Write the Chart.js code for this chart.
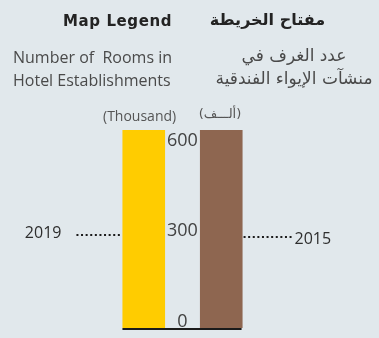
<!DOCTYPE html>
<html>
<head>
<meta charset="utf-8">
<script src="https://cdn.jsdelivr.net/npm/chart.js@4"></script>
<style>
  html, body { margin: 0; padding: 0; background: #e1e8ec; }
  #wrap { position: relative; width: 379px; height: 338px; overflow: hidden; background: #e1e8ec; }
  #c { position: absolute; left: 0; top: 0; }
  .t { position: absolute; white-space: nowrap; }
  .head-en { left: 63px; top: 12px; font: bold 15px 'DejaVu Sans', sans-serif; color: #232323; letter-spacing: 0.6px; }
  .head-ar { left: 205px; top: 10px; width: 125px; text-align: center; font: bold 16px 'DejaVu Sans', sans-serif; color: #232323; }
  .sub-en { left: 13px; top: 46px; font: 16px 'Open Sans', sans-serif; color: #4a4a4a; line-height: 23px; }
  .sub-ar { left: 205px; top: 44px; width: 178px; text-align: center; font: 17px 'DejaVu Sans', sans-serif; color: #4a4a4a; line-height: 23px; }
  .unit-en { left: 103px; top: 106px; font: 14px 'Open Sans', sans-serif; color: #555; }
  .unit-ar { left: 198px; top: 106px; width: 44px; text-align: center; font: 13px 'DejaVu Sans', sans-serif; color: #555; }
</style>
</head>
<body>
<div id="wrap">
  <canvas id="c" width="379" height="338"></canvas>
  <div class="t head-en">Map Legend</div>
  <div class="t head-ar" dir="rtl">مفتاح الخريطة</div>
  <div class="t sub-en">Number of&nbsp; Rooms in<br>Hotel Establishments</div>
  <div class="t sub-ar" dir="rtl">عدد الغرف في<br>منشآت الإيواء الفندقية</div>
  <div class="t unit-en">(Thousand)</div>
  <div class="t unit-ar" dir="rtl">(ألـــف)</div>
</div>
<script>
// Legend scale: rooms in hotel establishments, thousands
const years = ['2019', '2015'];
const roomsThousand = [635, 635];
const tickValues = [0, 300, 600];
const axisMin = -20;
const axisMax = 635;

const barColors = ['#ffcc00', '#8e6650'];

// Baseline under both bars plus the year labels with dotted leaders
const legendMarks = {
  id: 'legendMarks',
  afterDatasetsDraw(chart) {
    const ctx = chart.ctx;
    const bars = chart.getDatasetMeta(0).data.map(b => b.getProps(['x', 'y', 'base', 'width'], true));
    const first = bars[0];
    const last = bars[bars.length - 1];
    const leftEdge = first.x - first.width / 2;
    const rightEdge = last.x + last.width / 2;
    const mid = (first.y + first.base) / 2;

    ctx.save();
    ctx.strokeStyle = '#1b1b1b';
    ctx.lineWidth = 2;
    ctx.beginPath();
    ctx.moveTo(leftEdge, first.base + 1);
    ctx.lineTo(rightEdge - 1, first.base + 1);
    ctx.stroke();

    ctx.setLineDash([2, 2.6]);
    ctx.beginPath();
    ctx.moveTo(leftEdge - 46, mid + 6);
    ctx.lineTo(leftEdge - 1, mid + 6);
    ctx.moveTo(rightEdge + 1, mid + 8);
    ctx.lineTo(rightEdge + 50, mid + 8);
    ctx.stroke();
    ctx.setLineDash([]);

    ctx.fillStyle = '#2e2e2e';
    ctx.font = '16px "Open Sans", sans-serif';
    ctx.textBaseline = 'middle';
    ctx.textAlign = 'right';
    ctx.fillText(years[0], leftEdge - 61, mid + 4);
    ctx.textAlign = 'left';
    ctx.fillText(years[years.length - 1], rightEdge + 52, mid + 10);
    ctx.restore();
  }
};

new Chart(document.getElementById('c'), {
  type: 'bar',
  data: {
    labels: years,
    datasets: [{
      data: roomsThousand,
      base: axisMin,
      backgroundColor: barColors,
      borderWidth: 0,
      categoryPercentage: 1,
      barPercentage: 0.55
    }]
  },
  options: {
    responsive: false,
    animation: false,
    events: [],
    layout: { padding: { left: 105, right: 119, top: 130, bottom: 10 } },
    plugins: { legend: { display: false }, tooltip: { enabled: false } },
    scales: {
      x: { display: false },
      y: {
        min: axisMin,
        max: axisMax,
        afterBuildTicks: s => { s.ticks = tickValues.map(v => ({ value: v })); },
        afterFit: s => { s.width = 0; s.paddingTop = 0; s.paddingBottom = 0; },
        grid: { display: false, drawTicks: false },
        border: { display: false },
        ticks: {
          mirror: true,
          crossAlign: 'center',
          padding: 62,
          color: '#424242',
          font: { family: 'Open Sans', size: 18 }
        }
      }
    }
  },
  plugins: [legendMarks]
});
</script>
</body>
</html>
